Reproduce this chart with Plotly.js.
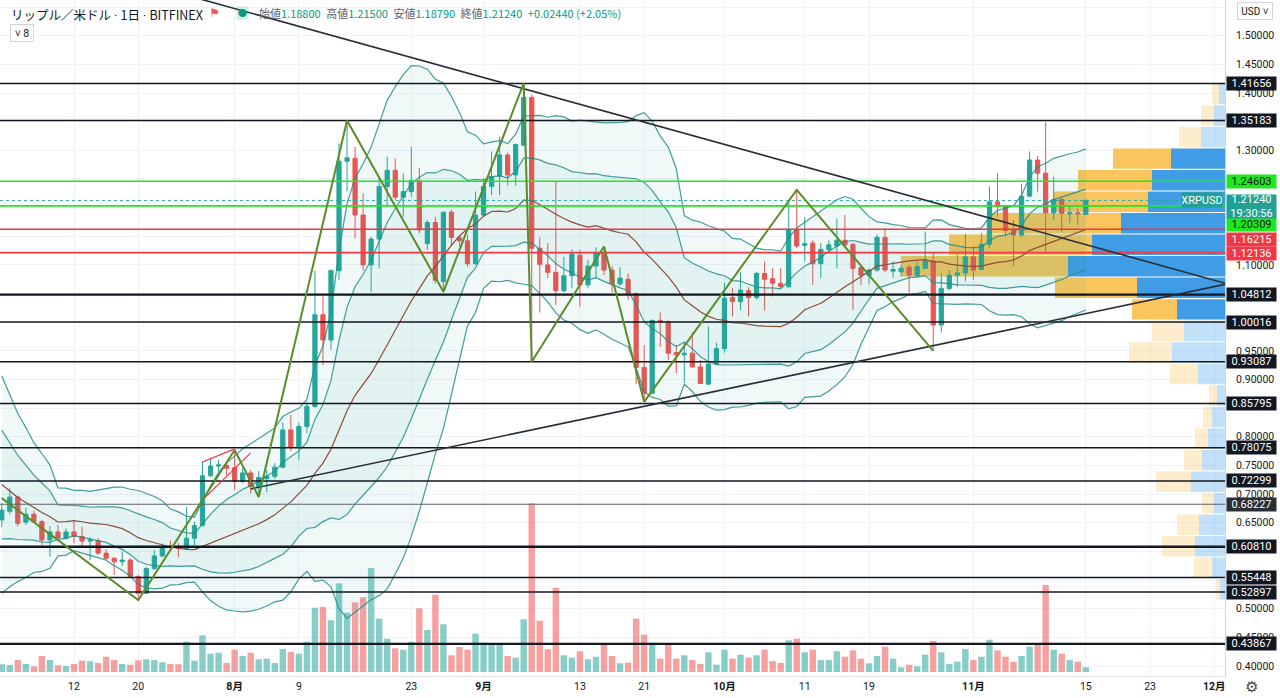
<!DOCTYPE html>
<html><head><meta charset="utf-8">
<script src="https://cdn.plot.ly/plotly-3.0.1.min.js"></script>
<style>html,body{margin:0;padding:0;background:#fff;overflow:hidden}#chart{width:1280px;height:698px}</style>
</head><body><div id="chart"></div>
<script>
// ---------- DATA ----------
const dates = [
'2021-07-03','2021-07-04','2021-07-05','2021-07-06','2021-07-07','2021-07-08','2021-07-09','2021-07-10','2021-07-11','2021-07-12','2021-07-13','2021-07-14','2021-07-15','2021-07-16','2021-07-17','2021-07-18','2021-07-19','2021-07-20','2021-07-21','2021-07-22','2021-07-23','2021-07-24','2021-07-25','2021-07-26','2021-07-27','2021-07-28','2021-07-29','2021-07-30','2021-07-31',
'2021-08-01','2021-08-02','2021-08-03','2021-08-04','2021-08-05','2021-08-06','2021-08-07','2021-08-08','2021-08-09','2021-08-10','2021-08-11','2021-08-12','2021-08-13','2021-08-14','2021-08-15','2021-08-16','2021-08-17','2021-08-18','2021-08-19','2021-08-20','2021-08-21','2021-08-22','2021-08-23','2021-08-24','2021-08-25','2021-08-26','2021-08-27','2021-08-28','2021-08-29','2021-08-30','2021-08-31',
'2021-09-01','2021-09-02','2021-09-03','2021-09-04','2021-09-05','2021-09-06','2021-09-07','2021-09-08','2021-09-09','2021-09-10','2021-09-11','2021-09-12','2021-09-13','2021-09-14','2021-09-15','2021-09-16','2021-09-17','2021-09-18','2021-09-19','2021-09-20','2021-09-21','2021-09-22','2021-09-23','2021-09-24','2021-09-25','2021-09-26','2021-09-27','2021-09-28','2021-09-29','2021-09-30',
'2021-10-01','2021-10-02','2021-10-03','2021-10-04','2021-10-05','2021-10-06','2021-10-07','2021-10-08','2021-10-09','2021-10-10','2021-10-11','2021-10-12','2021-10-13','2021-10-14','2021-10-15','2021-10-16','2021-10-17','2021-10-18','2021-10-19','2021-10-20','2021-10-21','2021-10-22','2021-10-23','2021-10-24','2021-10-25','2021-10-26','2021-10-27','2021-10-28','2021-10-29','2021-10-30','2021-10-31',
'2021-11-01','2021-11-02','2021-11-03','2021-11-04','2021-11-05','2021-11-06','2021-11-07','2021-11-08','2021-11-09','2021-11-10','2021-11-11','2021-11-12','2021-11-13','2021-11-14','2021-11-15'];

const open = [
.655,.670,.695,.651,.665,.652,.620,.634,.623,.634,.626,.618,.619,.597,.588,.582,.585,.556,.527,.570,.592,.609,.608,.605,.623,.645,.732,.749,.750,
.746,.722,.737,.713,.727,.731,.747,.812,.782,.818,.853,1.013,.969,1.090,1.281,1.286,1.187,1.100,1.145,1.237,1.265,1.218,1.228,1.247,1.137,1.174,1.071,1.192,1.148,1.142,1.102,
1.187,1.237,1.255,1.292,1.257,1.309,1.392,1.129,1.100,1.087,1.055,1.081,1.117,1.065,1.098,1.121,1.091,1.067,1.075,1.050,.921,.876,1.003,1.001,.947,.943,.946,.922,.892,.927,
.954,1.043,1.036,1.055,1.043,1.085,1.076,1.068,1.062,1.162,1.134,1.138,1.102,1.127,1.133,1.143,1.136,1.095,1.082,1.091,1.148,1.089,1.088,1.096,1.081,1.094,1.107,.995,1.059,1.082,1.086,
1.114,1.092,1.136,1.210,1.202,1.160,1.152,1.220,1.283,1.260,1.191,1.214,1.189,1.191,1.188];
const high = [
.684,.710,.697,.676,.671,.655,.644,.646,.640,.655,.643,.625,.623,.604,.590,.600,.588,.559,.573,.602,.614,.619,.615,.678,.652,.757,.764,.760,.756,
.777,.745,.742,.740,.742,.754,.825,.838,.825,.860,1.090,1.045,1.092,1.312,1.352,1.306,1.225,1.149,1.254,1.289,1.286,1.260,1.306,1.269,1.178,1.184,1.193,1.196,1.152,1.152,1.228,
1.251,1.298,1.324,1.296,1.312,1.417,1.397,1.148,1.138,1.245,1.114,1.127,1.126,1.109,1.131,1.133,1.098,1.096,1.085,1.052,.960,1.005,1.017,1.003,.960,.966,.982,.934,.993,.964,
1.069,1.060,1.088,1.061,1.088,1.106,1.094,1.094,1.210,1.231,1.183,1.143,1.138,1.143,1.181,1.187,1.138,1.097,1.094,1.153,1.164,1.106,1.100,1.100,1.106,1.158,1.123,1.085,1.091,1.117,1.154,
1.133,1.155,1.237,1.260,1.205,1.178,1.242,1.298,1.290,1.349,1.254,1.219,1.203,1.199,1.215];
const low = [
.643,.665,.643,.646,.651,.611,.591,.620,.621,.614,.608,.585,.594,.585,.559,.574,.555,.515,.526,.568,.590,.602,.590,.603,.611,.644,.730,.739,.733,
.707,.719,.701,.695,.703,.726,.745,.775,.760,.806,.850,.925,.952,1.074,1.228,1.146,1.090,1.053,1.094,1.202,1.213,1.184,1.219,1.155,1.126,1.068,1.053,1.132,1.132,1.097,1.100,
1.184,1.222,1.222,1.238,1.238,1.307,.931,1.017,1.077,1.030,1.052,1.059,1.027,1.059,1.077,1.082,1.052,1.063,1.039,.892,.861,.875,.957,.934,.911,.894,.921,.892,.890,.925,
.947,1.010,1.021,1.010,1.040,1.020,1.045,1.059,1.059,1.129,1.106,1.065,1.077,1.120,1.094,1.133,1.021,1.065,1.067,1.088,1.088,1.077,1.080,1.052,1.079,1.094,.950,.982,1.056,1.062,1.071,
1.074,1.091,1.129,1.184,1.149,1.098,1.149,1.219,1.228,1.123,1.178,1.158,1.173,1.170,1.1879];
const close = [
.672,.695,.649,.665,.652,.620,.634,.624,.634,.626,.618,.620,.597,.588,.582,.585,.556,.527,.570,.592,.608,.607,.606,.623,.645,.732,.749,.751,.745,
.722,.737,.713,.729,.731,.747,.812,.782,.818,.853,1.013,.969,1.090,1.281,1.287,1.187,1.100,1.145,1.237,1.265,1.218,1.228,1.247,1.161,1.174,1.073,1.192,1.148,1.142,1.102,1.187,
1.237,1.254,1.292,1.257,1.310,1.392,1.129,1.101,1.087,1.055,1.081,1.119,1.065,1.098,1.121,1.091,1.068,1.077,1.050,.921,.876,1.003,1.001,.946,.943,.946,.922,.893,.927,.954,
1.042,1.036,1.056,1.043,1.085,1.075,1.068,1.062,1.162,1.133,1.137,1.102,1.127,1.135,1.143,1.135,1.094,1.082,1.091,1.148,1.091,1.092,1.094,1.082,1.097,1.107,.995,1.059,1.082,1.086,1.114,
1.091,1.136,1.210,1.202,1.160,1.152,1.220,1.283,1.260,1.191,1.214,1.190,1.191,1.189,1.2124];
const volume = [
7.7,7,12,8,5.7,16,12,6.7,6,8,11.3,10.7,9,15.3,12,8,7.3,11.7,12.7,12,9.7,8,7.7,30.3,11.3,36.7,18.3,19.3,9,
22.3,16,19.3,12.7,13.3,9,23,20,18.3,30.3,64.3,65,51.7,88.7,59.3,69.7,74.7,104,53.3,33.3,23.7,22.3,30.3,63.7,42,77.3,47.7,16.7,25,22.3,38.3,
29.3,27.7,27.7,16,14.3,52.7,168.7,51.3,22.7,84.3,16.7,14.3,20.7,12.7,15.3,27.7,16,8.7,9.3,53.3,37.3,29.3,13.3,27.3,13.3,16.7,12,8,19.7,7.3,
22.3,13.3,17.3,14.3,16.7,22.3,11,9,31.7,33.3,19.7,22.3,12,12,20.7,15.3,21.7,13.3,8.7,16,25.3,13.3,4.7,7.3,5.7,17.3,31,19.7,8,10.3,23,
12,15.3,32.3,21.7,15.3,10.3,16,25.3,27,87,22.3,18.3,12,10.3,4.7];
// closes before the visible range (indicator warm-up only)
const preCloses = [0.91,0.89,0.84,0.83,0.79,0.78,0.81,0.62,0.59,0.66,0.67,0.62,0.61,0.65,0.66,0.70,0.70,0.67,0.665];

// horizontal levels
const levelsBlack = [1.41656,1.35183,1.00016,0.93087,0.85795,0.78075,0.72299,0.55448,0.52897];
const levelsBlackThick = [1.04812,0.60810,0.43867];
const levelsGray = [0.68227];
const levelsGreen = [1.24603,1.20309];
const levelsRed = [1.16215,1.12136];
const lastPrice = 1.21240;

// zigzag
const zzDates = ['2021-07-03','2021-07-20','2021-08-01','2021-08-04','2021-08-15','2021-08-27','2021-09-06','2021-09-07','2021-09-16','2021-09-21','2021-10-10','2021-10-27'];
const zzPrices = [0.693,0.515,0.777,0.695,1.352,1.053,1.417,0.931,1.132,0.861,1.231,0.950];
// trend lines
const descDates = ['2021-07-20','2021-12-02 08:00'], descPrices = [1.594,1.068];
const ascDates = ['2021-08-03','2021-12-02 08:00'], ascPrices = [0.709,1.066];
const chanUpDates = ['2021-07-28','2021-08-01'], chanUpPrices = [0.756,0.779];
const chanLoDates = ['2021-07-28','2021-08-03'], chanLoPrices = [0.690,0.772];

// volume profile (24 rows from the range low to high)
const vpLow = 0.515, vpHigh = 1.417;
const vpUp   = [5,13,30,26,11,34,23,17,13,8,27,53,41,48,88,157,133,104,77,73,54,24,11,6];
const vpDown = [4,18,33,22,12,35,18,13,9,8,28,43,32,45,82,167,143,130,94,74,58,22,13,7];
const vpValueArea = [0,0,0,0,0,0,0,0,0,0,0,0,0,1,1,1,1,1,1,1,1,0,0,0];

// axis ticks
const tickDates = ['2021-07-12','2021-07-20','2021-08-01','2021-08-09','2021-08-23','2021-09-01','2021-09-13','2021-09-21','2021-10-01','2021-10-11','2021-10-19','2021-11-01','2021-11-15','2021-11-23','2021-12-01'];
const tickLabels = ['12','20','<b>8月</b>','9','23','<b>9月</b>','13','21','<b>10月</b>','11','19','<b>11月</b>','15','23','<b>12月</b>'];
const priceTicks = [0.40,0.45,0.50,0.55,0.60,0.65,0.70,0.75,0.80,0.85,0.90,0.95,1.00,1.05,1.10,1.15,1.20,1.25,1.30,1.35,1.40,1.45,1.50,1.55];
// axis labels hidden behind the level tags in the reference
const hiddenPriceTicks = [0.55,0.60,0.85,1.00,1.05,1.15,1.20,1.25,1.35,1.55];

// ---------- BUILD ----------
const DAY = 86400000;
const xStart = '2021-07-02 18:45', xEnd = '2021-12-02 08:00';
const xEndMs = Date.UTC(2021,11,2,8,0);
const msPerUnit = DAY/8.03;
const GREEN = '#26a69a', RED = '#ef5350';

// Bollinger (20, 1 & 2 sigma)
const allC = preCloses.concat(close);
const sma=[], up1=[], lo1=[], up2=[], lo2=[];
for (let i=0;i<close.length;i++){
  const w = allC.slice(i, i+20);
  const m = w.reduce((a,b)=>a+b,0)/w.length;
  const sd = Math.sqrt(w.reduce((a,b)=>a+(b-m)*(b-m),0)/w.length);
  sma.push(m); up1.push(m+sd); lo1.push(m-sd); up2.push(m+2*sd); lo2.push(m-2*sd);
}

const traces = [];
// volume (main subplot, drawn first)
traces.push({type:'bar', x:dates, y:volume, xaxis:'x', yaxis:'y',
  width: dates.map(()=>0.8*DAY),
  marker:{color: close.map((c,i)=> c>=open[i] ? 'rgba(38,166,154,0.55)' : 'rgba(239,83,80,0.55)'), line:{width:0}},
  hoverinfo:'skip'});

// volume profile
const vpRowH = (vpHigh - vpLow)/vpUp.length;
const vpY = vpUp.map((_,k)=> vpLow + (k+0.5)*vpRowH);
traces.push({type:'bar', orientation:'h', xaxis:'x', yaxis:'y2', y:vpY,
  x: vpUp.map(v=>v*msPerUnit), base: vpUp.map(v=> xEndMs - v*msPerUnit),
  width: vpY.map(()=>vpRowH*0.95),
  marker:{color: vpValueArea.map(f=> f ? 'rgba(30,140,225,0.85)' : 'rgba(30,140,225,0.27)'), line:{width:0}}, hoverinfo:'skip'});
traces.push({type:'bar', orientation:'h', xaxis:'x', yaxis:'y2', y:vpY,
  x: vpDown.map(v=>v*msPerUnit), base: vpDown.map((v,k)=> xEndMs - (vpUp[k]+v)*msPerUnit),
  width: vpY.map(()=>vpRowH*0.95),
  marker:{color: vpValueArea.map(f=> f ? 'rgba(247,183,51,0.8)' : 'rgba(247,183,51,0.25)'), line:{width:0}}, hoverinfo:'skip'});

// candles
traces.push({type:'candlestick', x:dates, open, high, low, close, xaxis:'x', yaxis:'y2',
  increasing:{line:{color:GREEN,width:1}, fillcolor:GREEN},
  decreasing:{line:{color:RED,width:1}, fillcolor:RED},
  whiskerwidth:0, hoverinfo:'skip'});

// bands
const bandLine = {color:'rgba(34,140,136,0.85)', width:1.2};
traces.push({type:'scatter', mode:'lines', x:dates, y:up2, xaxis:'x', yaxis:'y2', line:bandLine, hoverinfo:'skip'});
traces.push({type:'scatter', mode:'lines', x:dates, y:lo2, xaxis:'x', yaxis:'y2', line:bandLine, fill:'tonexty', fillcolor:'rgba(38,166,154,0.07)', hoverinfo:'skip'});
traces.push({type:'scatter', mode:'lines', x:dates, y:up1, xaxis:'x', yaxis:'y2', line:bandLine, hoverinfo:'skip'});
traces.push({type:'scatter', mode:'lines', x:dates, y:lo1, xaxis:'x', yaxis:'y2', line:bandLine, fill:'tonexty', fillcolor:'rgba(38,166,154,0.07)', hoverinfo:'skip'});
traces.push({type:'scatter', mode:'lines', x:dates, y:sma, xaxis:'x', yaxis:'y2', line:{color:'#8e4a3a', width:1.2}, hoverinfo:'skip'});

// horizontal levels
function hLines(levels, line){
  const xs=[], ys=[];
  levels.forEach(l=>{ xs.push(xStart, xEnd, null); ys.push(l, l, null); });
  traces.push({type:'scatter', mode:'lines', x:xs, y:ys, xaxis:'x', yaxis:'y2', line, hoverinfo:'skip', connectgaps:false});
}
hLines(levelsBlack, {color:'#131722', width:1.5});
hLines(levelsBlackThick, {color:'#131722', width:2.4});
hLines(levelsGray, {color:'#5d606b', width:1.2});
hLines(levelsGreen, {color:'#1ee81e', width:1.6});
hLines(levelsRed, {color:'#f23645', width:1.6});
hLines([lastPrice], {color:'rgba(38,166,154,0.9)', width:1, dash:'dot'});

// trend lines, channel, zigzag
const tl = {color:'#2a2e39', width:1.6};
traces.push({type:'scatter', mode:'lines', x:descDates, y:descPrices, xaxis:'x', yaxis:'y2', line:tl, hoverinfo:'skip'});
traces.push({type:'scatter', mode:'lines', x:ascDates, y:ascPrices, xaxis:'x', yaxis:'y2', line:tl, hoverinfo:'skip'});
traces.push({type:'scatter', mode:'lines', x:chanUpDates, y:chanUpPrices, xaxis:'x', yaxis:'y2', line:{color:'#f23645', width:1.2}, hoverinfo:'skip'});
traces.push({type:'scatter', mode:'lines', x:chanLoDates, y:chanLoPrices, xaxis:'x', yaxis:'y2', line:{color:'#f23645', width:1.2}, hoverinfo:'skip'});
traces.push({type:'scatter', mode:'lines', x:zzDates, y:zzPrices, xaxis:'x', yaxis:'y2', line:{color:'#5b8c2a', width:2}, hoverinfo:'skip'});

// ---------- ANNOTATIONS ----------
const FONT = "Roboto, 'Noto Sans CJK JP', sans-serif";
const ann = [];
function lvlLabel(v, bg, fg, shift){
  ann.push({xref:'paper', x:1, xanchor:'left', xshift:1, yref:'y2', y:v, yanchor:'middle', yshift:shift||0,
    text:v.toFixed(5), showarrow:false, bgcolor:bg, font:{color:fg, size:11, family:FONT},
    width:49, height:13, borderpad:0, align:'center'});
}
levelsBlack.concat(levelsBlackThick).forEach(v=>lvlLabel(v,'#131722','#ffffff'));
levelsGray.forEach(v=>lvlLabel(v,'#2a2e39','#ffffff'));
lvlLabel(levelsGreen[0], '#1ee81e', '#131722');
lvlLabel(levelsGreen[1], '#1ee81e', '#131722', -19);
lvlLabel(levelsRed[0], '#f23645', '#ffffff', -10);
lvlLabel(levelsRed[1], '#f23645', '#ffffff', -1);
ann.push({xref:'paper', x:1, xanchor:'left', xshift:1, yref:'y2', y:lastPrice, yanchor:'top', yshift:6,
  text:lastPrice.toFixed(5)+'<br>19:30:56', showarrow:false, bgcolor:'#22a094', font:{color:'#ffffff', size:11, family:FONT},
  width:49, height:23, borderpad:0, align:'center'});
ann.push({xref:'paper', x:1, xanchor:'right', xshift:-2, yref:'y2', y:lastPrice, yanchor:'middle',
  text:'XRPUSD', showarrow:false, bgcolor:'#22a094', font:{color:'#ffffff', size:11, family:FONT},
  width:40, height:14, borderpad:0});

// header
const JP = "'Noto Sans CJK JP', Roboto, sans-serif";
ann.push({xref:'paper', yref:'paper', x:0, y:1, xanchor:'left', yanchor:'top', xshift:9, yshift:-3,
  text:'リップル／米ドル<span style="font-family:Roboto"> · </span>1日<span style="font-family:Roboto"> · </span>BITFINEX', showarrow:false, font:{size:12.5, color:'#131722', family:JP}});
ann.push({xref:'paper', yref:'paper', x:0, y:1, xanchor:'center', yanchor:'middle', xshift:214, yshift:-13,
  text:'⚑', showarrow:false, font:{size:12, color:'#f7525f'}});
ann.push({xref:'paper', yref:'paper', x:0, y:1, xanchor:'center', yanchor:'middle', xshift:242, yshift:-13,
  text:'<span style="color:#089981;font-size:9px">●</span>', showarrow:false, bgcolor:'rgba(8,153,129,0.18)', borderpad:1,
  font:{size:9, color:'#089981'}});
const L = s=>'<span style="color:#5d606b">'+s+'</span>', V = s=>'<span style="color:#089981">'+s+'</span>';
const ohlcText = L('始値')+V('1.18800')+'\u2002'+L('高値')+V('1.21500')+'\u2002'+L('安値')+V('1.18790')+'\u2002'+L('終値')+V('1.21240')+'\u2002'+V('+0.02440 (+2.05%)');
ann.push({xref:'paper', yref:'paper', x:0, y:1, xanchor:'left', yanchor:'middle', xshift:257, yshift:-13,
  text:ohlcText, showarrow:false, font:{size:11, family:JP}});
ann.push({xref:'paper', yref:'paper', x:0, y:1, xanchor:'left', yanchor:'top', xshift:10, yshift:-24,
  text:'˅ 8', showarrow:false, font:{size:10.5, color:'#131722', family:FONT}, bordercolor:'#d1d4dc', borderwidth:1,
  width:20, height:14, borderpad:1, bgcolor:'#ffffff'});
ann.push({xref:'paper', yref:'paper', x:1, y:1, xanchor:'left', yanchor:'top', xshift:12, yshift:-2,
  text:'USD ˅', showarrow:false, font:{size:10, color:'#131722', family:FONT}, bordercolor:'#d1d4dc', borderwidth:1,
  width:32, height:14, borderpad:1, bgcolor:'#ffffff'});
ann.push({xref:'paper', yref:'paper', x:1, y:0, xanchor:'center', yanchor:'middle', xshift:26, yshift:-11,
  text:'⚙', showarrow:false, font:{size:15, color:'#434651'}});

const layout = {
  width:1280, height:698,
  margin:{l:0, r:55, t:0, b:22},
  paper_bgcolor:'#ffffff', plot_bgcolor:'#ffffff',
  showlegend:false, hovermode:false, barmode:'overlay', boxgap:0.25,
  font:{family:FONT, color:'#131722'},
  xaxis:{type:'date', range:[xStart, xEnd], rangeslider:{visible:false},
    tickvals:tickDates, ticktext:tickLabels, tickfont:{size:10.5, color:'#131722'},
    showgrid:true, gridcolor:'#f0f3fa', gridwidth:1, zeroline:false,
    showline:true, linecolor:'#e0e3eb', ticks:'', fixedrange:true},
  yaxis:{range:[-4, 672], visible:false, fixedrange:true},
  yaxis2:{overlaying:'y', side:'right', anchor:'x', range:[0.38255, 1.5623],
    tickmode:'array', tickvals:priceTicks,
    ticktext:priceTicks.map(v=> hiddenPriceTicks.some(h=>Math.abs(h-v)<1e-9) ? '' : v.toFixed(5)),
    tickfont:{size:10.5, color:'#131722'},
    showgrid:true, gridcolor:'#f0f3fa', zeroline:false, showline:true, linecolor:'#d1d4dc',
    ticks:'', ticklabelstandoff:8, fixedrange:true},
  annotations:ann
};
Plotly.newPlot('chart', traces, layout, {displayModeBar:false, staticPlot:true});
</script></body></html>
